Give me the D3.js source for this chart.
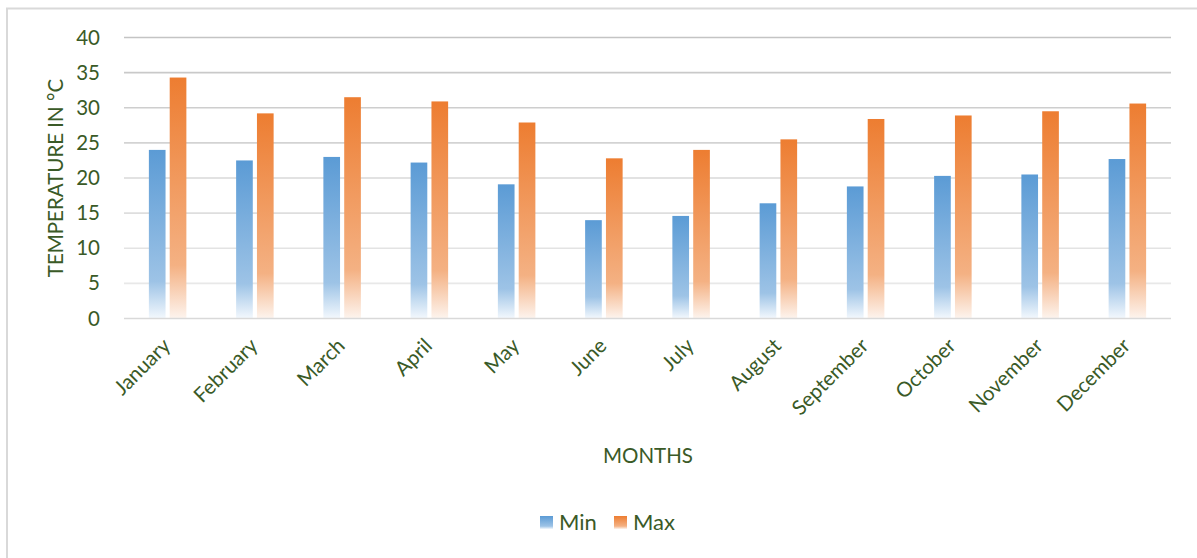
<!DOCTYPE html>
<html>
<head>
<meta charset="utf-8">
<script src="https://cdn.jsdelivr.net/npm/d3@7"></script>
<style>
  body { margin: 0; background: #fff; }
  text { font-family: Lato, "Open Sans", sans-serif; fill: #3a5a27; }
</style>
</head>
<body>
<div id="chart"></div>
<script>
// Months on the x axis
var months = ["January", "February", "March", "April", "May", "June",
  "July", "August", "September", "October", "November", "December"];

// Min & Max temperatures (°C)
var minTemps = [24.0, 22.5, 23.0, 22.2, 19.1, 14.0, 14.6, 16.4, 18.8, 20.3, 20.5, 22.7];
var maxTemps = [34.3, 29.2, 31.5, 30.9, 27.9, 22.8, 24.0, 25.5, 28.4, 28.9, 29.5, 30.6];

// Series names
var seriesNames = ["Min", "Max"];

// Y ticks
var yTicks = [0, 5, 10, 15, 20, 25, 30, 35, 40];

// Chart size
var width = 1197;
var height = 558;

// Plot area
var plotLeft = 124;
var plotRight = 1171;
var plotTop = 37.5;
var plotBottom = 318.5;

var svg = d3.select("#chart")
  .append("svg")
  .attr("width", width)
  .attr("height", height);

// Gradients for bars
var defs = svg.append("defs");
var gradColors = {
  Min: ["#5b9bd5", "#9dc3e6", "#f3f8fd"],
  Max: ["#ed7d31", "#f4b183", "#fdf4ee"]
};
seriesNames.forEach(function(name) {
  var g = defs.append("linearGradient")
    .attr("id", "grad" + name)
    .attr("x1", 0).attr("y1", 0)
    .attr("x2", 0).attr("y2", 1);
  g.append("stop").attr("offset", "0%").attr("stop-color", gradColors[name][0]);
  g.append("stop").attr("offset", "78%").attr("stop-color", gradColors[name][1]);
  g.append("stop").attr("offset", "100%").attr("stop-color", gradColors[name][2]);
});

// Chart border (top & left)
svg.append("line")
  .attr("x1", 6).attr("x2", width)
  .attr("y1", 8.5).attr("y2", 8.5)
  .attr("stroke", "#d9d9d9").attr("stroke-width", 2);
svg.append("line")
  .attr("x1", 7).attr("x2", 7)
  .attr("y1", 8).attr("y2", height)
  .attr("stroke", "#d9d9d9").attr("stroke-width", 2);

// Scales
var xScale = d3.scaleBand()
  .domain(months)
  .range([plotLeft, plotRight]);

var xInner = d3.scaleBand()
  .domain(seriesNames)
  .range([0, 37.5])
  .paddingInner(0.2);

var yScale = d3.scaleLinear()
  .domain([0, 40])
  .range([plotBottom, plotTop]);

// Gridlines (darker toward the top)
var gridColor = d3.scaleLinear()
  .domain([0, 40])
  .range(["#ededed", "#c4c4c4"]);

svg.append("g")
  .selectAll("line")
  .data(yTicks.filter(function(d) { return d > 0; }))
  .enter()
  .append("line")
  .attr("x1", plotLeft)
  .attr("x2", plotRight)
  .attr("y1", function(d) { return yScale(d); })
  .attr("y2", function(d) { return yScale(d); })
  .attr("stroke", function(d) { return gridColor(d); })
  .attr("stroke-width", 1.6);

// Y axis
var yAxis = d3.axisLeft(yScale)
  .tickValues(yTicks)
  .tickSize(0)
  .tickPadding(24);

var yG = svg.append("g")
  .attr("transform", "translate(" + plotLeft + ",0)")
  .call(yAxis);
yG.select(".domain").remove();
yG.selectAll("text")
  .attr("font-size", "20.5px")
  .style("font-family", "Lato, 'Open Sans', sans-serif")
  .attr("fill", "#3a5a27");

// Bars
var data = months.map(function(m, i) {
  return { month: m, values: [
    { name: "Min", value: minTemps[i] },
    { name: "Max", value: maxTemps[i] }
  ] };
});

var groups = svg.append("g")
  .selectAll("g")
  .data(data)
  .enter()
  .append("g")
  .attr("transform", function(d) {
    return "translate(" + (xScale(d.month) + (xScale.bandwidth() - 37.5) / 2) + ",0)";
  });

groups.selectAll("rect")
  .data(function(d) { return d.values; })
  .enter()
  .append("rect")
  .attr("x", function(d) { return xInner(d.name); })
  .attr("y", function(d) { return yScale(d.value); })
  .attr("width", xInner.bandwidth())
  .attr("height", function(d) { return plotBottom - yScale(d.value); })
  .attr("fill", function(d) { return "url(#grad" + d.name + ")"; });

// Baseline
svg.append("line")
  .attr("x1", plotLeft).attr("x2", plotRight)
  .attr("y1", plotBottom).attr("y2", plotBottom)
  .attr("stroke", "#d9d9d9").attr("stroke-width", 1.5);

// X labels, rotated
svg.append("g")
  .selectAll("text")
  .data(months)
  .enter()
  .append("text")
  .attr("transform", function(d) {
    return "translate(" + (xScale(d) + xScale.bandwidth() / 2 - 1) + "," + 342 + ") rotate(-45)";
  })
  .attr("text-anchor", "end")
  .attr("dy", "0.35em")
  .attr("font-size", "20.5px")
  .text(function(d) { return d; });

// X axis title
svg.append("text")
  .attr("x", 648)
  .attr("y", 463)
  .attr("text-anchor", "middle")
  .attr("font-size", "20.5px")
  .text("MONTHS");

// Y axis title
svg.append("text")
  .attr("transform", "translate(63," + ((plotTop + plotBottom) / 2) + ") rotate(-90)")
  .attr("text-anchor", "middle")
  .attr("font-size", "20.5px")
  .text("TEMPERATURE IN °C");

// Legend
var legend = svg.append("g");
var legendX = [540, 614];
seriesNames.forEach(function(name, i) {
  legend.append("rect")
    .attr("x", legendX[i])
    .attr("y", 516)
    .attr("width", 13)
    .attr("height", 13)
    .attr("fill", "url(#grad" + name + ")");
  legend.append("text")
    .attr("x", legendX[i] + 19)
    .attr("y", 530)
    .attr("font-size", "22px")
    .text(name);
});
</script>
</body>
</html>
